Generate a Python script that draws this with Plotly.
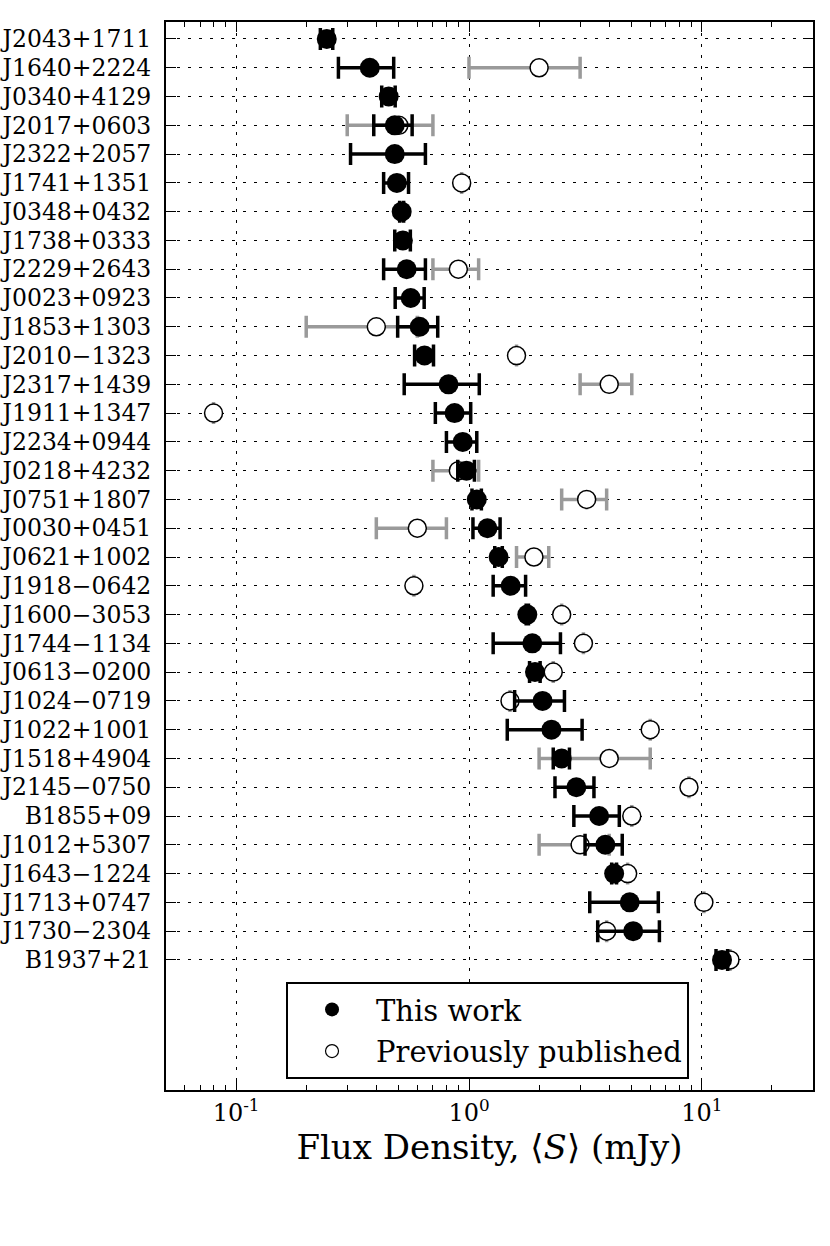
import plotly.graph_objects as go
import math

pulsars = ["J2043+1711", "J1640+2224", "J0340+4129", "J2017+0603", "J2322+2057",
           "J1741+1351", "J0348+0432", "J1738+0333", "J2229+2643", "J0023+0923",
           "J1853+1303", "J2010\u22121323", "J2317+1439", "J1911+1347", "J2234+0944",
           "J0218+4232", "J0751+1807", "J0030+0451", "J0621+1002", "J1918\u22120642",
           "J1600\u22123053", "J1744\u22121134", "J0613\u22120200", "J1024\u22120719", "J1022+1001",
           "J1518+4904", "J2145\u22120750", "B1855+09", "J1012+5307", "J1643\u22121224",
           "J1713+0747", "J1730\u22122304", "B1937+21"]

this_flux = [0.245, 0.375, 0.452, 0.48, 0.48, 0.49, 0.514, 0.52, 0.54, 0.562,
             0.614, 0.644, 0.817, 0.867, 0.94, 0.975, 1.08, 1.2, 1.34, 1.51,
             1.78, 1.87, 1.92, 2.07, 2.26, 2.5, 2.89, 3.62, 3.85, 4.2,
             4.9, 5.07, 12.2]
this_err = [0.015, 0.1, 0.03, 0.09, 0.17, 0.06, 0.01, 0.04, 0.11, 0.08,
            0.12, 0.06, 0.29, 0.15, 0.14, 0.08, 0.05, 0.16, 0.05, 0.24,
            0.02, 0.6, 0.1, 0.5, 0.8, 0.2, 0.55, 0.8, 0.7, 0.1,
            1.6, 1.5, 0.7]

prev_flux = [None, 2.0, None, 0.5, None, 0.93, None, None, 0.9, None,
             0.4, 1.6, 4.0, 0.08, None, 0.9, 3.2, 0.6, 1.9, 0.58,
             2.5, 3.1, 2.3, 1.5, 6.0, 4.0, 8.8, 5.0, 3.0, 4.8,
             10.2, 3.9, 13.2]
prev_err = [None, 1.0, None, 0.2, None, None, None, None, 0.2, None,
            0.2, None, 1.0, None, None, 0.2, 0.7, 0.2, 0.3, None,
            None, None, None, None, None, 2.0, None, None, 1.0, None,
            None, None, None]

xtick_vals = [0.1, 1, 10]
xtick_text = ["10<sup>-1</sup>", "10<sup>0</sup>", "10<sup>1</sup>"]
xminor_vals = [0.05, 0.06, 0.07, 0.08, 0.09, 0.2, 0.3, 0.4, 0.5, 0.6, 0.7, 0.8, 0.9,
               2, 3, 4, 5, 6, 7, 8, 9, 20, 30]

ypos = list(range(len(pulsars)))
FONT = "DejaVu Serif"

fig = go.Figure()
fig.add_trace(go.Scatter(
    x=prev_flux, y=ypos, mode="markers", name="Previously published",
    showlegend=False,
    marker=dict(symbol="circle", size=18, color="white",
                line=dict(color="black", width=1.5)),
    error_x=dict(type="data", array=prev_err, color="#9a9a9a", thickness=3.5, width=11),
))
fig.add_trace(go.Scatter(
    x=this_flux, y=ypos, mode="markers", name="This work",
    showlegend=False,
    marker=dict(symbol="circle", size=20, color="black",
                line=dict(color="black", width=0)),
    error_x=dict(type="data", array=this_err, color="black", thickness=3.5, width=11),
))
# legend entries (no data points)
fig.add_trace(go.Scatter(
    x=[None], y=[None], mode="markers", name="This work",
    legendgroup="this", legendrank=1,
    marker=dict(symbol="circle", size=14, color="black"),
))
fig.add_trace(go.Scatter(
    x=[None], y=[None], mode="markers", name="Previously published",
    legendgroup="prev", legendrank=2,
    marker=dict(symbol="circle", size=13, color="white",
                line=dict(color="black", width=1.2)),
))

fig.update_layout(
    width=830, height=1246,
    margin=dict(l=166, r=17, t=22, b=156, autoexpand=False),
    paper_bgcolor="white", plot_bgcolor="white",
    font=dict(family=FONT, color="black"),
    showlegend=True,
    hovermode=False,
    legend=dict(x=0.1855, y=0.1011, xanchor="left", yanchor="top",
                bgcolor="white", bordercolor="black", borderwidth=2,
                font=dict(size=29, family=FONT), tracegroupgap=1,
                traceorder="grouped", itemwidth=78),
)
fig.update_xaxes(
    type="log", range=[math.log10(0.05), math.log10(30)], automargin=False,
    tickvals=xtick_vals, ticktext=xtick_text, tickfont=dict(size=24),
    ticks="inside", ticklen=10, tickwidth=1, tickcolor="black",
    minor=dict(tickmode="array", tickvals=xminor_vals, ticks="inside", ticklen=5,
               tickcolor="black", tickwidth=1, showgrid=False),
    showline=True, linecolor="black", linewidth=2, mirror="allticks",
    showgrid=True, gridcolor="black", gridwidth=1, griddash="3px,8px",
    zeroline=False,
    title=dict(text="Flux Density, \u27e8<i>S</i>\u27e9 (mJy)", font=dict(size=34), standoff=0),
)
fig.update_yaxes(
    range=[36.52, -0.59], tickvals=ypos, ticktext=pulsars, tickfont=dict(size=23.5),
    automargin=False,
    ticks="inside", ticklen=10, tickwidth=1, tickcolor="black", ticklabelstandoff=8,
    showline=True, linecolor="black", linewidth=2, mirror="allticks",
    showgrid=True, gridcolor="black", gridwidth=1, griddash="3px,8px",
    zeroline=False,
)

fig.write_html("out.html", config={"displayModeBar": False},
               post_script="document.body.style.margin='0';")
